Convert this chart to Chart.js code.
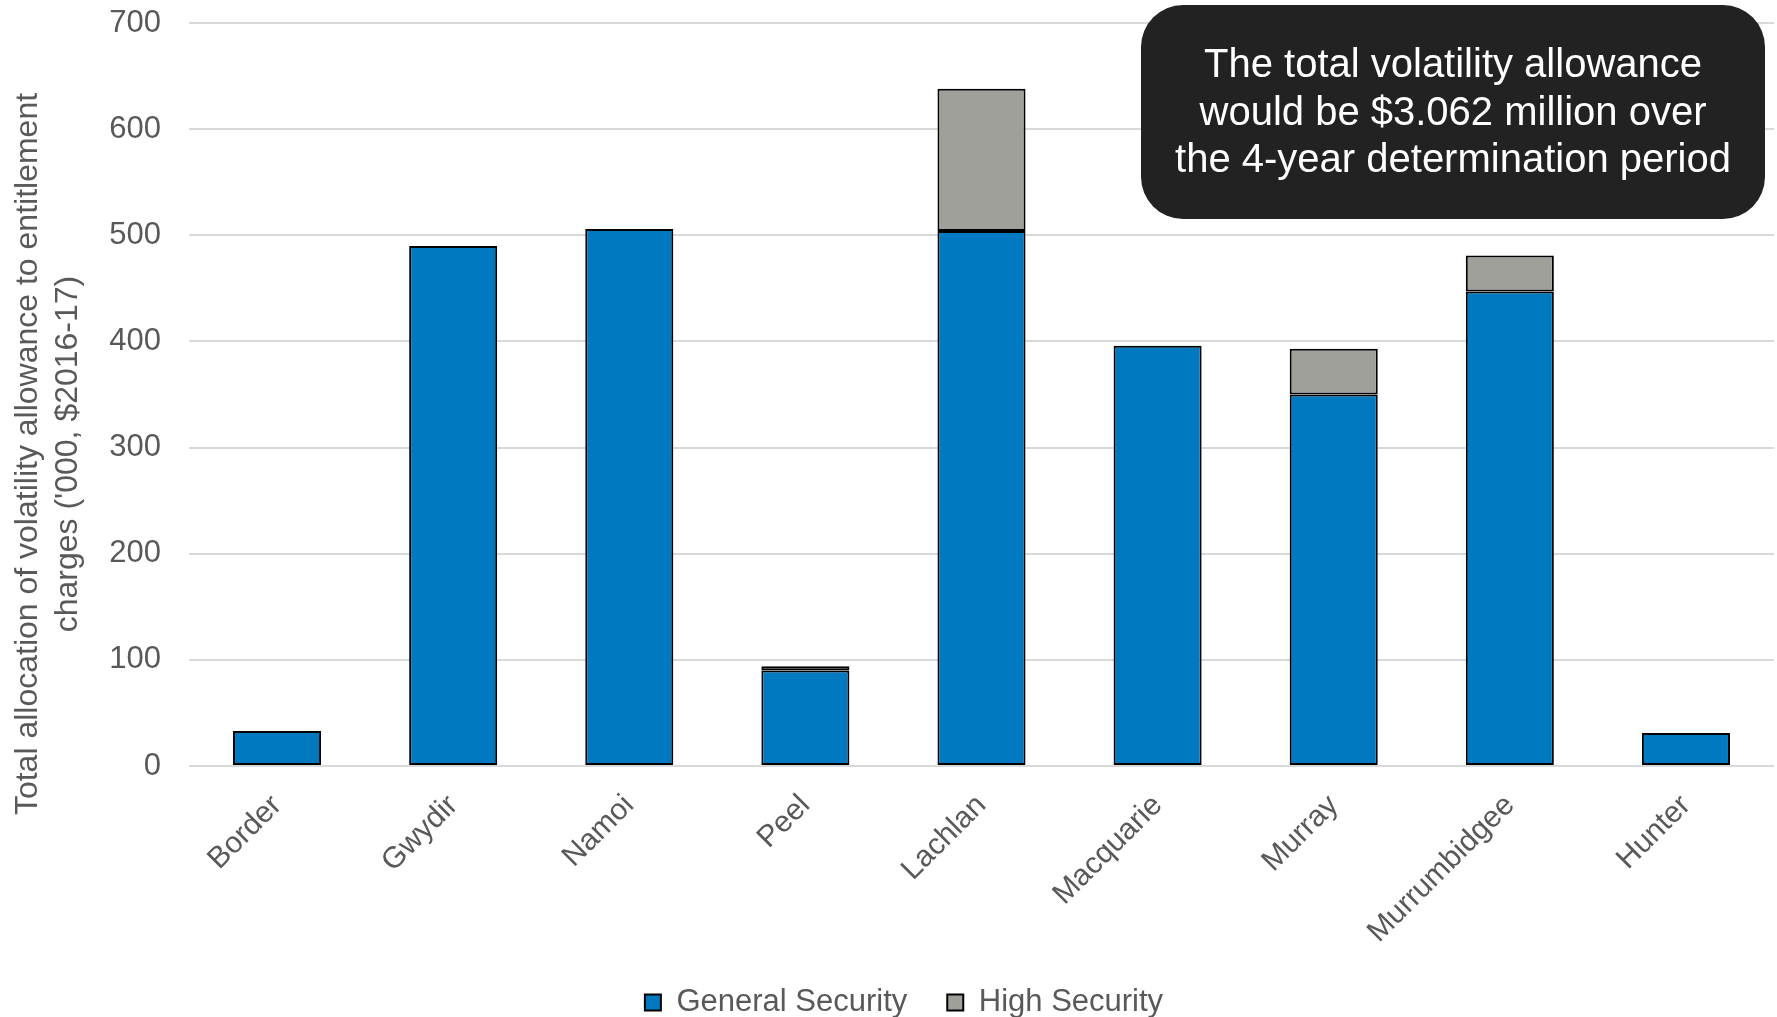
<!DOCTYPE html>
<html>
<head>
<meta charset="utf-8">
<style>
  html, body { margin: 0; padding: 0; background: #ffffff; }
  #wrap { width: 1777px; height: 1017px; position: relative; }
</style>
<script src="https://cdn.jsdelivr.net/npm/chart.js@4/dist/chart.umd.min.js"></script>
</head>
<body>
<div id="wrap"><canvas id="chart" width="1777" height="1017"></canvas></div>
<script>
// Valleys and volatility allowance allocation ('000, $2016-17)
const valleys = ['Border', 'Gwydir', 'Namoi', 'Peel', 'Lachlan', 'Macquarie', 'Murray', 'Murrumbidgee', 'Hunter'];
const generalSecurity = [33, 490, 506, 90, 504, 396, 350, 447, 31];
const highSecurity = [null, null, null, 4, 134, null, 43, 34, null];
const yTicks = [0, 100, 200, 300, 400, 500, 600, 700];

const yTitleLines = ['Total allocation of volatility allowance to entitlement', "charges ('000, $2016-17)"];
const noteLines = ['The total volatility allowance', 'would be $3.062 million over', 'the 4-year determination period'];

const FONT = '"Liberation Sans", Arial, Helvetica, sans-serif';
const GREY_TEXT = '#595959';

// Rotated two-line title on the left of the value axis
const yTitlePlugin = {
  id: 'yTitle',
  afterDraw(chart) {
    const ctx = chart.ctx;
    ctx.save();
    ctx.translate(28, 454);
    ctx.rotate(-Math.PI / 2);
    ctx.font = '32px ' + FONT;
    ctx.fillStyle = GREY_TEXT;
    ctx.textAlign = 'center';
    ctx.textBaseline = 'middle';
    yTitleLines.forEach((line, i) => ctx.fillText(line, 0, i * 40));
    ctx.restore();
  }
};

// Dark rounded call-out box with the total
const notePlugin = {
  id: 'note',
  afterDraw(chart) {
    const ctx = chart.ctx;
    const x = 1141, y = 5, w = 624, h = 214, r = 42;
    ctx.save();
    ctx.beginPath();
    ctx.roundRect(x, y, w, h, r);
    ctx.fillStyle = '#222222';
    ctx.fill();
    ctx.font = '40px ' + FONT;
    ctx.fillStyle = '#ffffff';
    ctx.textAlign = 'center';
    ctx.textBaseline = 'middle';
    noteLines.forEach((line, i) => ctx.fillText(line, x + w / 2, 66 + i * 47.6));
    ctx.restore();
  }
};

new Chart(document.getElementById('chart'), {
  type: 'bar',
  data: {
    labels: valleys,
    datasets: [
      {
        label: 'General Security',
        data: generalSecurity,
        backgroundColor: '#0079C1',
        borderColor: '#000000',
        borderWidth: 2,
        borderSkipped: false
      },
      {
        label: 'High Security',
        data: highSecurity,
        backgroundColor: '#A0A09A',
        borderColor: '#000000',
        borderWidth: 2,
        borderSkipped: false
      }
    ]
  },
  options: {
    responsive: false,
    animation: false,
    devicePixelRatio: 1,
    layout: { padding: { top: 23, right: 3, bottom: -11, left: 34 } },
    datasets: { bar: { barPercentage: 0.5, categoryPercentage: 1.0 } },
    plugins: {
      legend: {
        position: 'bottom',
        labels: {
          boxWidth: 16,
          boxHeight: 16,
          padding: 40,
          color: GREY_TEXT,
          font: { family: FONT, size: 31 }
        }
      },
      tooltip: { enabled: false },
      title: { display: false }
    },
    scales: {
      x: {
        stacked: true,
        grid: { display: false, drawTicks: false },
        border: { display: false },
        ticks: {
          color: GREY_TEXT,
          font: { family: FONT, size: 30 },
          minRotation: 45,
          maxRotation: 45,
          padding: 22
        },
        afterFit(scale) { scale.height = 181; }
      },
      y: {
        stacked: true,
        min: 0,
        max: 700,
        afterBuildTicks(scale) { scale.ticks = yTicks.map(v => ({ value: v })); },
        grid: { color: '#D9D9D9', lineWidth: 2, drawTicks: false },
        border: { display: false },
        ticks: {
          color: GREY_TEXT,
          font: { family: FONT, size: 31 },
          padding: 28
        },
        afterFit(scale) {
          scale.width = 155;
          scale.paddingTop = 0;
          scale.paddingBottom = 0;
        }
      }
    }
  },
  plugins: [yTitlePlugin, notePlugin]
});
</script>
</body>
</html>
